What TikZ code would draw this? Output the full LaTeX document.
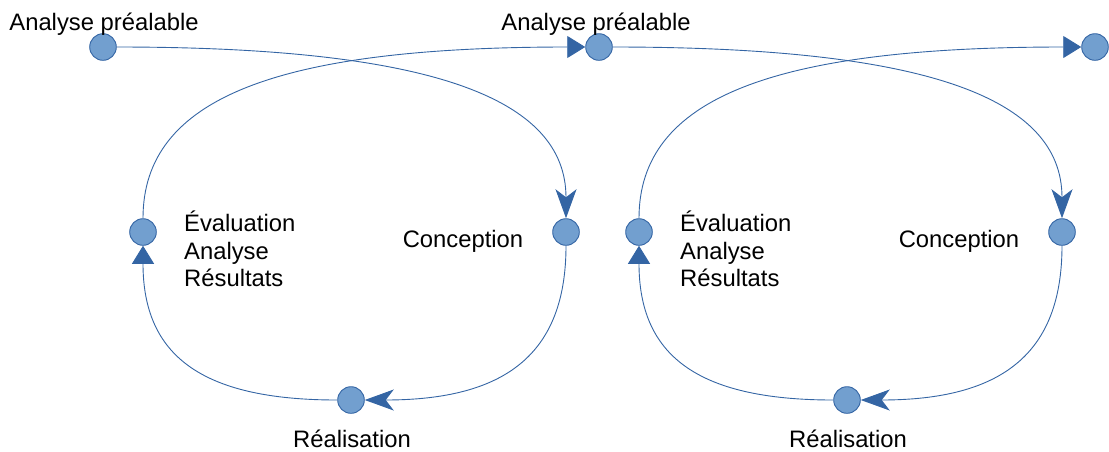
\documentclass[tikz,border=0pt]{standalone}
\usepackage{fontspec}
\setmainfont{Liberation Sans}
\usetikzlibrary{arrows.meta}
\definecolor{nodefill}{HTML}{729FCF}
\definecolor{nodeline}{HTML}{3465A4}
\tikzset{
  dot/.style={circle, draw=nodeline, fill=nodefill, line width=0.9pt, minimum size=26.6pt, inner sep=0pt},
  lbl/.style={font=\fontsize{23.8}{27.5}\selectfont, inner sep=0pt, text=black},
  conn/.style={draw=nodeline, line width=0.9pt},
  notch/.style={-{Stealth[length=29pt, width=21pt, inset=8pt]}},
  tri/.style={-{Triangle[length=18pt, width=22pt]}},
}
\begin{document}
\begin{tikzpicture}[x=1pt, y=-1pt]
\useasboundingbox (0,0) rectangle (1109,451);
\foreach \i/\dx/\tx in {1/0/104, 2/496/596} {
  \node[dot] (a\i) at (103+\dx,47) {};
  \node[dot] (c\i) at (566+\dx,232) {};
  \node[dot] (r\i) at (351+\dx,400) {};
  \node[dot] (e\i) at (143+\dx,232) {};
  \node[lbl, anchor=base] (ta\i) at (\tx,30) {Analyse préalable};
  \node[lbl, anchor=base] (tc\i) at (463+\dx,247) {Conception};
  \node[lbl, anchor=base] (tr\i) at (352+\dx,447) {Réalisation};
  \node[lbl, anchor=north west, align=left] (te\i) at (184+\dx,211) {Évaluation\\Analyse\\Résultats};
}
\node[dot] (a3) at (1095,47) {};
% loop 1
\draw[conn, notch] (a1.east) .. controls +(315,0) and +(0,-120) .. (c1.north);
\draw[conn, notch] (c1.south) .. controls +(0,108) and +(141,0) .. (r1.east);
\draw[conn, tri] (r1.west) .. controls +(-137,0) and +(0,109) .. (e1.south);
\draw[conn, tri] (e1.north) .. controls +(0,-120) and +(-309,0) .. (a2.west);
% loop 2
\draw[conn, notch] (a2.east) .. controls +(315,0) and +(0,-120) .. (c2.north);
\draw[conn, notch] (c2.south) .. controls +(0,108) and +(141,0) .. (r2.east);
\draw[conn, tri] (r2.west) .. controls +(-137,0) and +(0,109) .. (e2.south);
\draw[conn, tri] (e2.north) .. controls +(0,-120) and +(-309,0) .. (a3.west);
\end{tikzpicture}
\end{document}
